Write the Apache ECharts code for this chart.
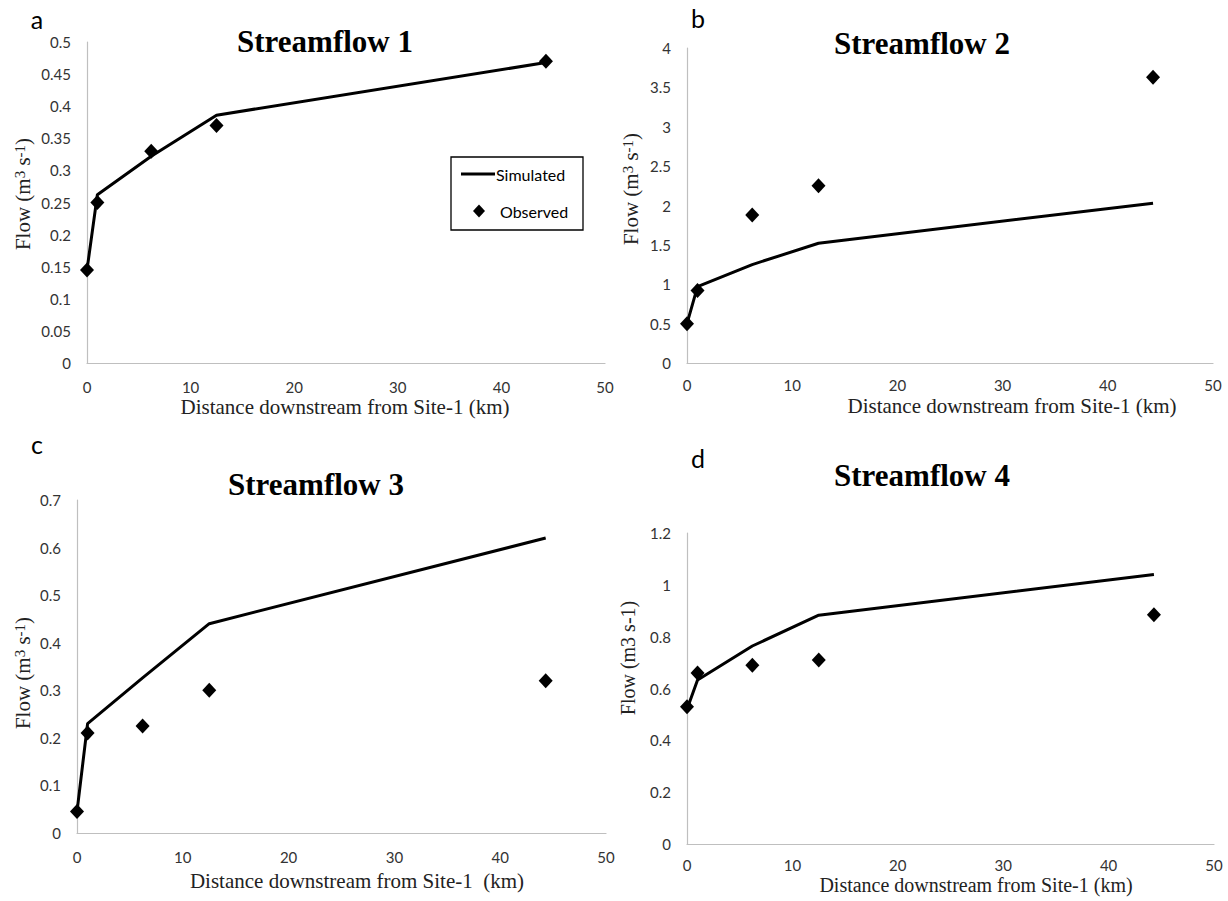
<!DOCTYPE html>
<html>
<head>
<meta charset="utf-8">
<title>Streamflow: simulated vs observed</title>
<script src="https://cdn.jsdelivr.net/npm/echarts@6/dist/echarts.min.js"></script>
<style>
  html, body { margin: 0; padding: 0; background: #fff; }
  #chart { width: 1228px; height: 901px; }
</style>
</head>
<body>
<div id="chart"></div>
<script>
// Distance downstream from Site-1 (km) of the sampling sites
const distanceKm = [0, 1, 6.2, 12.5, 44.3];

// Flow (m3 s-1) for each streamflow scenario
const simulated1 = [0.145, 0.262, 0.322, 0.386, 0.468];
const observed1  = [0.145, 0.25, 0.33, 0.37, 0.47];
const simulated2 = [0.5, 0.97, 1.25, 1.52, 2.03];
const observed2  = [0.5, 0.92, 1.88, 2.25, 3.63];
const simulated3 = [0.045, 0.23, 0.326, 0.44, 0.62];
const observed3  = [0.045, 0.21, 0.225, 0.30, 0.32];
const simulated4 = [0.52, 0.633, 0.764, 0.883, 1.04];
const observed4  = [0.53, 0.66, 0.69, 0.71, 0.885];

const panelTitles = ['Streamflow 1', 'Streamflow 2', 'Streamflow 3', 'Streamflow 4'];
const panelLetters = ['a', 'b', 'c', 'd'];
// y-axis titles: rich-text markup, {p|..} plain and {s|..} superscript
const yAxisTitles = [
  '{p|Flow (m}{s|3}{p| s}{s|-1}{p|)}',
  '{p|Flow (m}{s|3}{p| s}{s|-1}{p|)}',
  '{p|Flow (m}{s|3}{p| s}{s|-1}{p|)}',
  '{q|Flow (m3 s-1)}'
];
const xAxisTitles = [
  'Distance downstream from Site-1 (km)',
  'Distance downstream from Site-1 (km)',
  'Distance downstream from Site-1  (km)',
  'Distance downstream from Site-1 (km)'
];
const yMax = [0.5, 4, 0.7, 1.2];
const yStep = [0.05, 0.5, 0.1, 0.2];

const simulatedSets = [simulated1, simulated2, simulated3, simulated4];
const observedSets = [observed1, observed2, observed3, observed4];

// Layout of the four panels (plot areas, in px)
const grids = [
  { left: 87,  top: 42,  width: 518, height: 321 },
  { left: 687, top: 48,  width: 526, height: 315 },
  { left: 77,  top: 500, width: 529, height: 333 },
  { left: 687, top: 533, width: 527, height: 311 }
];
const xLabelMargin = [16, 14, 16, 13];
const titlePos  = [[325, 41], [922, 43], [316, 484], [922, 475]];
const letterPos = [[37, 19], [698, 18], [37, 444], [698, 458]];
const xNamePos  = [[345, 407], [1012, 406], [357, 881], [976, 885]];
const xNameSize = [21, 21, 21, 20];
const yNamePos  = [[23, 194], [631, 189], [23, 673], [628, 658]];

const serif = '"Liberation Serif", "Times New Roman", serif';
const sans = 'Lato, "Open Sans", sans-serif';
const pair = (ys) => ys.map((v, i) => [distanceKm[i], v]);

const xAxes = grids.map((g, i) => ({
  type: 'value', gridIndex: i, min: 0, max: 50, interval: 10,
  axisLine: { show: true, lineStyle: { color: '#bfbfbf', width: 1.2 } },
  axisTick: { show: false },
  splitLine: { show: false },
  axisLabel: { color: '#333', fontFamily: sans, fontSize: 15, margin: xLabelMargin[i] }
}));
const yAxes = grids.map((g, i) => ({
  type: 'value', gridIndex: i, min: 0, max: yMax[i], interval: yStep[i],
  axisLine: { show: true, lineStyle: { color: '#bfbfbf', width: 1.2 } },
  axisTick: { show: false },
  splitLine: { show: false },
  axisLabel: { color: '#333', fontFamily: sans, fontSize: 15, margin: 16 }
}));

const series = [];
grids.forEach((g, i) => {
  series.push({
    name: 'Simulated', type: 'line', xAxisIndex: i, yAxisIndex: i,
    data: pair(simulatedSets[i]), symbol: 'none',
    lineStyle: { color: '#000', width: 3 }, itemStyle: { color: '#000' }, z: 2
  });
  series.push({
    name: 'Observed', type: 'scatter', xAxisIndex: i, yAxisIndex: i,
    data: pair(observedSets[i]), symbol: 'diamond', symbolSize: [14, 15],
    itemStyle: { color: '#000', opacity: 1 }, z: 3
  });
});

const graphics = [];
grids.forEach((g, i) => {
  graphics.push({
    type: 'text', x: titlePos[i][0], y: titlePos[i][1],
    style: { text: panelTitles[i], font: 'bold 31px ' + serif, fill: '#000',
             textAlign: 'center', textVerticalAlign: 'middle' }
  });
  graphics.push({
    type: 'text', x: letterPos[i][0], y: letterPos[i][1],
    style: { text: panelLetters[i], font: '25px ' + sans, fill: '#000',
             textAlign: 'center', textVerticalAlign: 'middle' }
  });
  graphics.push({
    type: 'text', x: xNamePos[i][0], y: xNamePos[i][1],
    style: { text: xAxisTitles[i], font: xNameSize[i] + 'px ' + serif, fill: '#222',
             textAlign: 'center', textVerticalAlign: 'middle' }
  });
  graphics.push({
    type: 'text', x: yNamePos[i][0], y: yNamePos[i][1], rotation: Math.PI / 2,
    style: {
      text: yAxisTitles[i], fill: '#222',
      textAlign: 'center', textVerticalAlign: 'middle',
      rich: {
        p: { fontFamily: serif, fontSize: 21, fill: '#222', verticalAlign: 'bottom' },
        s: { fontFamily: serif, fontSize: 15, fill: '#222', verticalAlign: 'top' },
        q: { fontFamily: serif, fontSize: 20, fill: '#222' }
      }
    }
  });
});
// frame around the legend entries
graphics.push({
  type: 'rect', shape: { x: 451, y: 157, width: 132, height: 73 },
  style: { fill: 'none', stroke: '#000', lineWidth: 1.3 }, z: 0
});

const legendText = { fontFamily: sans, fontSize: 16, color: '#000' };

const chart = echarts.init(document.getElementById('chart'), null, { renderer: 'svg' });
chart.setOption({
  animation: false,
  backgroundColor: '#fff',
  grid: grids.map(g => Object.assign({ containLabel: false }, g)),
  xAxis: xAxes,
  yAxis: yAxes,
  legend: [
    {
      data: [{ name: 'Simulated', icon: 'rect' }],
      left: 461, top: 166, padding: 0,
      itemWidth: 34, itemHeight: 3,
      textStyle: Object.assign({ padding: [0, 0, 0, -4] }, legendText)
    },
    {
      data: [{ name: 'Observed', icon: 'diamond' }],
      left: 473, top: 203, padding: 0,
      itemWidth: 12, itemHeight: 13,
      itemStyle: { opacity: 1 },
      textStyle: Object.assign({ padding: [0, 0, 0, 10] }, legendText)
    }
  ],
  graphic: graphics,
  series: series
});
</script>
</body>
</html>
